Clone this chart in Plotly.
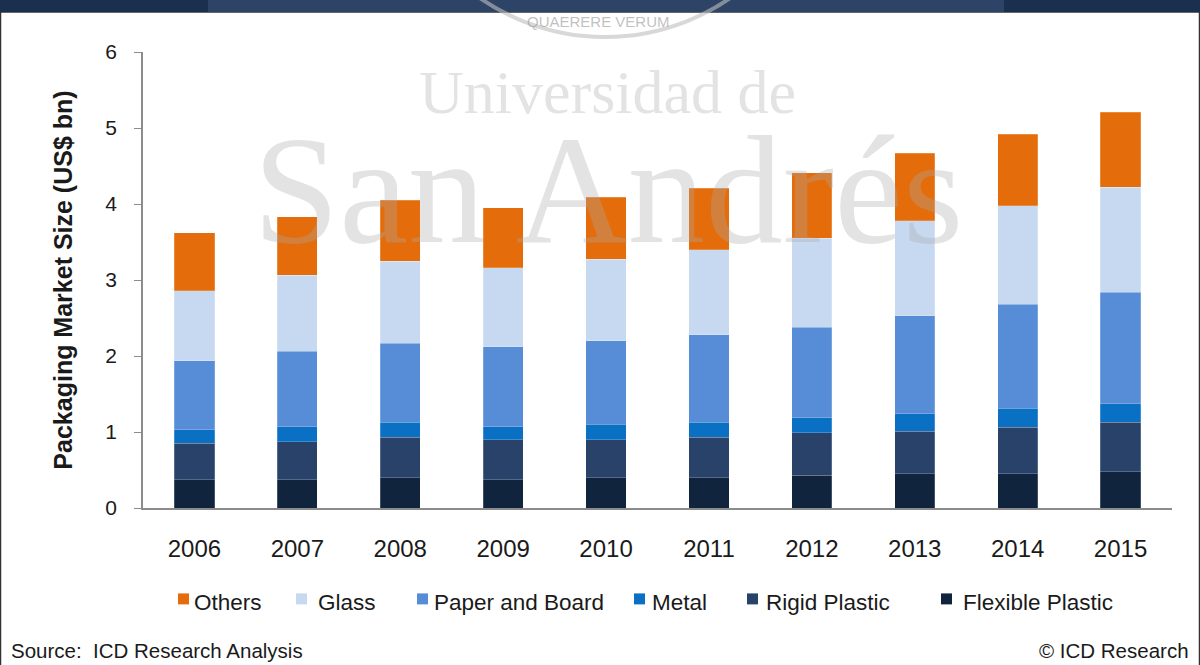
import plotly.graph_objects as go

years = ["2006", "2007", "2008", "2009", "2010", "2011", "2012", "2013", "2014", "2015"]

flexible_plastic = [0.37, 0.37, 0.40, 0.37, 0.40, 0.40, 0.43, 0.45, 0.45, 0.48]
rigid_plastic = [0.48, 0.50, 0.53, 0.53, 0.50, 0.53, 0.56, 0.56, 0.61, 0.65]
metal = [0.18, 0.20, 0.20, 0.17, 0.20, 0.20, 0.20, 0.23, 0.25, 0.24]
paper_board = [0.91, 0.99, 1.04, 1.05, 1.10, 1.15, 1.19, 1.29, 1.37, 1.47]
glass = [0.92, 1.00, 1.08, 1.04, 1.07, 1.12, 1.17, 1.25, 1.30, 1.38]
others = [0.76, 0.77, 0.80, 0.79, 0.82, 0.81, 0.86, 0.89, 0.94, 0.99]

series = [
    ("Flexible Plastic", flexible_plastic, "#10243E"),
    ("Rigid Plastic", rigid_plastic, "#28426A"),
    ("Metal", metal, "#0A70C4"),
    ("Paper and Board", paper_board, "#568DD6"),
    ("Glass", glass, "#C6D9F0"),
    ("Others", others, "#E46C0A"),
]

font_family = "Liberation Sans, Arial, sans-serif"
serif_family = "Liberation Serif, Times New Roman, serif"

# plot area in pixels (used to place page furniture in paper coordinates)
PLOT_L, PLOT_W = 143, 1029
PLOT_BOTTOM, PLOT_H = 508.5, 456.5


def px_x(px):
    return (px - PLOT_L) / PLOT_W


def px_y(py):
    return (PLOT_BOTTOM - py) / PLOT_H


fig = go.Figure()
for name, values, color in series:
    fig.add_trace(go.Bar(
        x=years, y=values, name=name, showlegend=False,
        marker=dict(color=color, line=dict(width=0.6, color="rgba(255,255,255,0.35)")),
        width=0.39,
    ))

# page frame, header band and seal outline
shapes = [
    dict(type="rect", xref="paper", yref="paper", x0=px_x(0.5), x1=px_x(1199.5), y0=px_y(667), y1=px_y(12),
         line=dict(color="#333333", width=1.5), fillcolor="rgba(0,0,0,0)", layer="below"),
    dict(type="rect", xref="paper", yref="paper", x0=px_x(0), x1=px_x(1200), y0=px_y(12), y1=px_y(-2),
         line=dict(width=0), fillcolor="#1B2F4E", layer="below"),
    dict(type="rect", xref="paper", yref="paper", x0=px_x(208), x1=px_x(1004), y0=px_y(12), y1=px_y(-2),
         line=dict(width=0), fillcolor="#2E4466", layer="below"),
    dict(type="circle", xref="paper", yref="paper", x0=px_x(385), x1=px_x(825), y0=px_y(37), y1=px_y(-403),
         line=dict(color="rgba(190,190,190,0.6)", width=4), fillcolor="rgba(0,0,0,0)", layer="above"),
]

annotations = [
    dict(text="Universidad de", xref="paper", yref="paper", x=px_x(607), y=px_y(56),
         xanchor="center", yanchor="top", showarrow=False,
         font=dict(family=serif_family, size=62, color="rgba(170,170,170,0.33)")),
    dict(text="San Andrés", xref="paper", yref="paper", x=px_x(608), y=px_y(102),
         xanchor="center", yanchor="top", showarrow=False,
         font=dict(family=serif_family, size=155, color="rgba(170,170,170,0.33)")),
    dict(text="QUAERERE VERUM", xref="paper", yref="paper", x=px_x(598), y=px_y(21),
         xanchor="center", yanchor="middle", showarrow=False,
         font=dict(family=font_family, size=15, color="rgba(150,150,150,0.6)")),
    dict(text="Source:  ICD Research Analysis", xref="paper", yref="paper", x=px_x(9), y=px_y(651),
         xanchor="left", yanchor="middle", showarrow=False,
         font=dict(family=font_family, size=20.5, color="#1a1a1a")),
    dict(text="© ICD Research", xref="paper", yref="paper", x=px_x(1191), y=px_y(651),
         xanchor="right", yanchor="middle", showarrow=False,
         font=dict(family=font_family, size=20.5, color="#1a1a1a")),
]

# legend row below the axis: square swatch followed by the series name
legend_order = ["Others", "Glass", "Paper and Board", "Metal", "Rigid Plastic", "Flexible Plastic"]
legend_swatch_x = [178, 296, 417, 634, 747, 941]
legend_text_x = [192, 316, 432, 650, 764, 961]
colors = {name: color for name, _, color in series}
for name, sx, tx in zip(legend_order, legend_swatch_x, legend_text_x):
    shapes.append(dict(type="rect", xref="paper", yref="paper",
                       x0=px_x(sx), x1=px_x(sx + 11), y0=px_y(605), y1=px_y(594),
                       line=dict(width=0), fillcolor=colors[name]))
    annotations.append(dict(text=name, xref="paper", yref="paper", x=px_x(tx), y=px_y(603),
                            xanchor="left", yanchor="middle", showarrow=False,
                            font=dict(family=font_family, size=22.5, color="#1a1a1a")))

fig.update_layout(
    width=1200, height=665,
    barmode="stack",
    paper_bgcolor="white", plot_bgcolor="white",
    margin=dict(l=PLOT_L, r=1200 - PLOT_L - PLOT_W, t=52, b=665 - PLOT_BOTTOM),
    font=dict(family=font_family, size=20, color="#1a1a1a"),
    showlegend=False,
    xaxis=dict(showline=True, linecolor="#8c8c8c", linewidth=1.5, ticks="", showgrid=False,
               tickfont=dict(size=24), ticklabelstandoff=18),
    yaxis=dict(range=[0, 6], dtick=1, showline=True, linecolor="#8c8c8c", linewidth=1.5,
               ticks="outside", ticklen=7, tickcolor="#8c8c8c", showgrid=False, zeroline=False,
               tickfont=dict(size=21), ticklabelstandoff=13,
               title=dict(text="<b>Packaging Market Size (US$ bn)</b>", font=dict(size=25), standoff=26)),
    shapes=shapes,
    annotations=annotations,
)

fig.write_html("out.html")
